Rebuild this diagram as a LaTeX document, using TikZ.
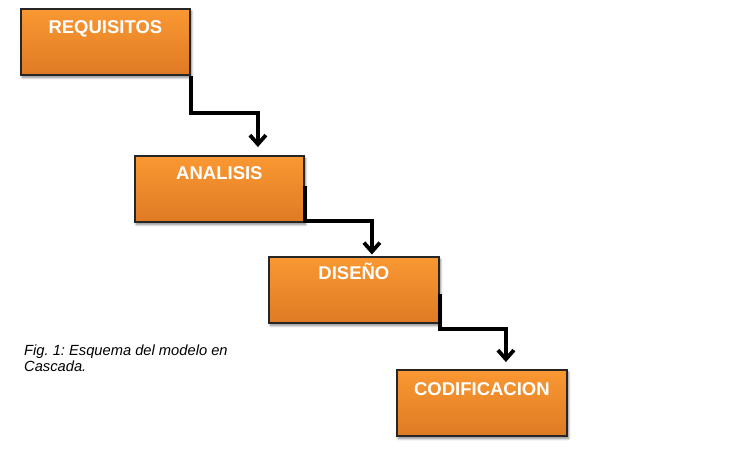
\documentclass[tikz,border=0pt]{standalone}
\usepackage{fontspec}
\setmainfont{Liberation Sans}
\usetikzlibrary{arrows.meta,shadows.blur,positioning}
\definecolor{otop}{HTML}{FA9832}
\definecolor{obot}{HTML}{DF7A24}
\definecolor{edge}{HTML}{262626}
\frenchspacing
\tikzset{
  phase/.style={rectangle, anchor=north west, minimum width=169pt, minimum height=66pt,
    draw=edge, line width=1.8pt, top color=otop, bottom color=obot, inner sep=0pt,
    blur shadow={shadow xshift=1.5pt, shadow yshift=-2.5pt, shadow blur steps=6, shadow opacity=50, shadow blur radius=2.5pt}},
  phtext/.style={font=\bfseries\fontsize{18.5}{20}\selectfont, text=white, anchor=base},
  flow/.style={draw=black, line width=3.8pt, line join=miter, line cap=butt,
    -{Straight Barb[length=9pt,width=16pt,line width=3.8pt]}},
  caption/.style={font=\itshape\fontsize{14.7}{16}\selectfont, anchor=north west, align=left, inner sep=0pt}
}
\begin{document}
\begin{tikzpicture}[x=1pt,y=-1pt]
\useasboundingbox (0,0) rectangle (744,467);
\node[phase] (b1) at (20,8) {};
\node[phase] (b2) at (134,155) {};
\node[phase, minimum width=170pt] (b3) at (268,256) {};
\node[phase, minimum width=170pt] (b4) at (396,369) {};
\node[phtext] (t1) at ([yshift=-25pt]b1.north) {REQUISITOS};
\node[phtext] (t2) at ([yshift=-24pt]b2.north) {ANALISIS};
\node[phtext] (t3) at ([yshift=-23pt]b3.north) {DISEÑO};
\node[phtext] (t4) at ([yshift=-26pt]b4.north) {CODIFICACION};
\coordinate (s1) at ([xshift=0.5pt]b1.south east);
\coordinate (s2) at ([yshift=3pt]b2.east);
\coordinate (s3) at ([yshift=-4pt]b3.east);
\draw[flow] (s1) -- ++(0,37) -| ([xshift=38.5pt,yshift=8pt]b2.north);
\draw[flow] (s2) -- ++(0,35) -| ([xshift=18pt,yshift=1.5pt]b3.north);
\draw[flow] (s3) -- ++(0,35) -| ([xshift=24pt,yshift=7pt]b4.north);
\node[caption] (cap) at (24,344.4) {Fig. 1: Esquema del modelo en\\Cascada.};
\end{tikzpicture}
\end{document}
